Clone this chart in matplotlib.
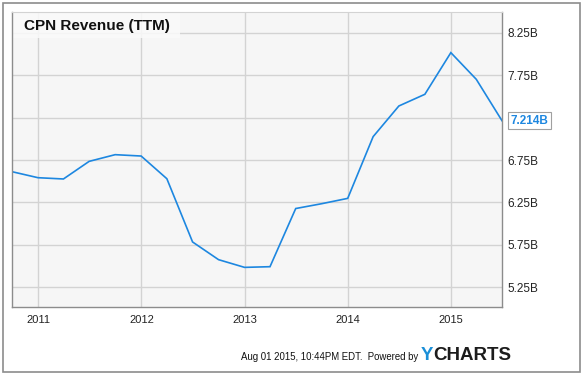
import matplotlib
matplotlib.use("Agg")
import matplotlib.pyplot as plt
import matplotlib.dates as mdates
import pandas as pd
from matplotlib.patches import Rectangle

plt.rcParams['font.family'] = ['Liberation Sans', 'DejaVu Sans']

dates = ["2010-09-30", "2010-12-31", "2011-03-31", "2011-06-30", "2011-09-30",
         "2011-12-31", "2012-03-31", "2012-06-30", "2012-09-30", "2012-12-31",
         "2013-03-31", "2013-06-30", "2013-09-30", "2013-12-31", "2014-03-31",
         "2014-06-30", "2014-09-30", "2014-12-31", "2015-03-31", "2015-06-30"]
revenue_b = [6.612, 6.541, 6.526, 6.734, 6.813,
             6.797, 6.529, 5.782, 5.573, 5.482,
             5.490, 6.177, 6.234, 6.297, 7.026,
             7.388, 7.526, 8.018, 7.703, 7.214]
y_ticks = [5.25, 5.75, 6.25, 6.75, 7.25, 7.75, 8.25]
y_tick_labels = ["5.25B", "5.75B", "6.25B", "6.75B", "", "7.75B", "8.25B"]
x_ticks = ["2011-01-01", "2012-01-01", "2013-01-01", "2014-01-01", "2015-01-01"]
x_tick_labels = ["2011", "2012", "2013", "2014", "2015"]
title = "CPN Revenue (TTM)"
last_label = "7.214B"

x = pd.to_datetime(dates)

fig = plt.figure(figsize=(5.84, 3.77), dpi=100)
fig.patch.set_facecolor("white")
# outer frame
fig.patches.append(Rectangle((3/584, 5/377), 577/584, 369/377, transform=fig.transFigure,
                             fill=False, edgecolor="#8c8c8c", linewidth=1.2))

ax = fig.add_axes([12/584, 70/377, 490/584, 295/377])
ax.set_facecolor("#f6f6f6")
ax.plot(x, revenue_b, color="#1d87e0", linewidth=1.2, solid_joinstyle="miter")

ax.set_xlim(x[0], x[-1])
ax.set_ylim(5.014, 8.498)
ax.set_xticks(pd.to_datetime(x_ticks))
ax.set_xticklabels(x_tick_labels)
ax.set_yticks(y_ticks)
ax.set_yticklabels(y_tick_labels)
ax.yaxis.tick_right()
ax.tick_params(axis="y", length=0, pad=4, labelsize=8.5, labelcolor="#222222")
ax.tick_params(axis="x", length=0, pad=6, labelsize=8, labelcolor="#222222")
ax.grid(True, color="#d3d3d3", linewidth=1)
ax.set_axisbelow(True)
for s in ["left", "right", "bottom"]:
    ax.spines[s].set_color("#8c8c8c")
    ax.spines[s].set_linewidth(1)
ax.spines["top"].set_color("#d3d3d3")

# light box behind title
ax.add_patch(Rectangle((0, 1 - 26/295), 168/490, 26/295, transform=ax.transAxes,
                       fc="#fafafa", ec="none", alpha=0.85, zorder=1.5))
ax.text(12/490, 1 - 14/295, title, transform=ax.transAxes, fontsize=11, fontweight="bold",
        color="#111111", va="center", ha="left", zorder=3)

ax.annotate(last_label, xy=(x[-1], revenue_b[-1]), xytext=(6, 0), textcoords="offset points",
            fontsize=8.5, fontweight="bold", color="#1d87e0", va="center", ha="left",
            annotation_clip=False,
            bbox=dict(boxstyle="square,pad=0.2", fc="white", ec="#a0a0a0", lw=0.8))

fig.text(418/584, 1 - 357/377, "Aug 01 2015, 10:44PM EDT.  Powered by", fontsize=6.9,
         color="#111111", ha="right", va="center")
fig.text(421/584, 1 - 356/377, "Y", fontsize=13.5, fontweight="bold", color="#1a8fd8",
         ha="left", va="center")
fig.text(433/584, 1 - 356/377, "CHARTS", fontsize=13.5, fontweight="bold", color="#1c1c1c",
         ha="left", va="center")

fig.savefig("out.png", dpi=100)
